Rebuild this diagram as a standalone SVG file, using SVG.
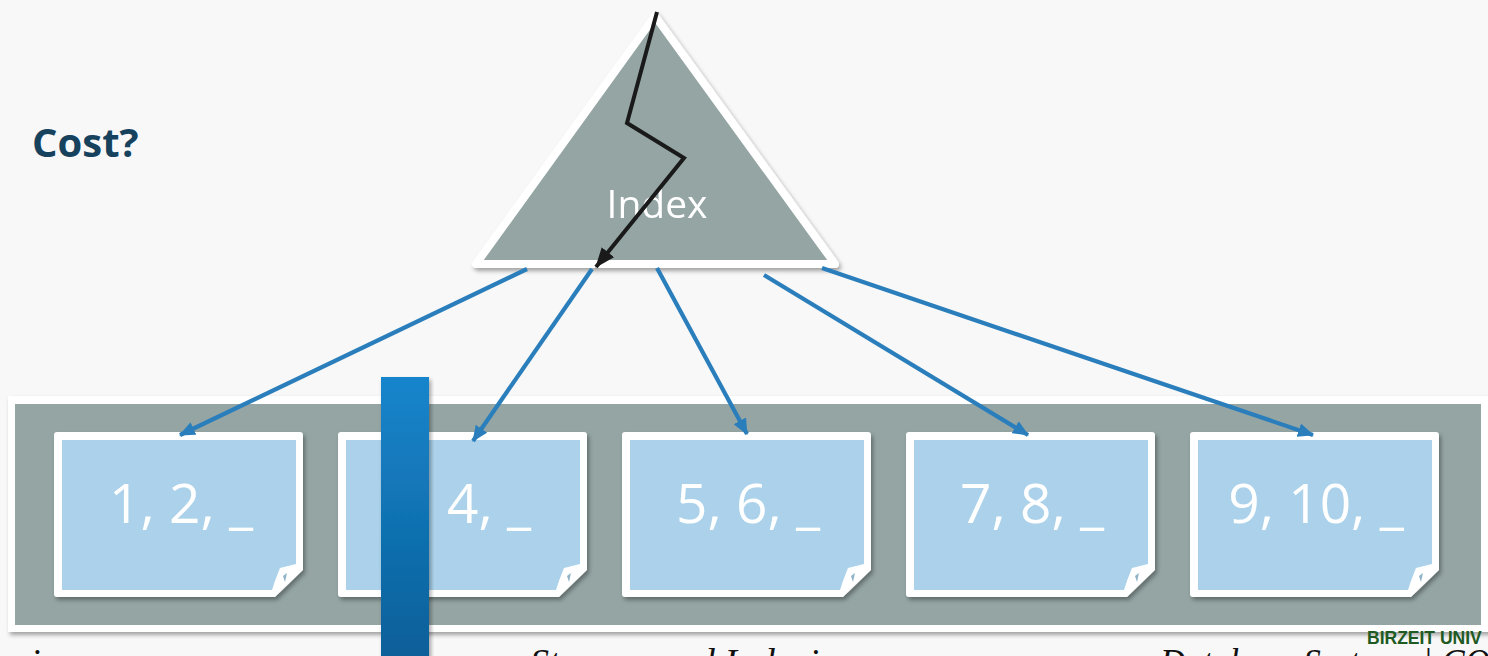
<svg xmlns="http://www.w3.org/2000/svg" width="1488" height="656" viewBox="0 0 1488 656">
  <defs>
    <style>
      .page-fill { fill: #abd2ea; }
      .page-edge { fill: #ffffff; }
      .page-label { font-family: "Open Sans", "Liberation Sans", sans-serif; font-weight: 400; font-size: 55px; fill: #ffffff; }
      .link { fill: none; stroke: #2a7ebb; stroke-width: 4.2; marker-end: url(#blueHead); }
      .footer { font-family: "Liberation Serif", serif; font-style: italic; font-size: 38px; fill: #111111; }
    </style>
    <filter id="shadow" x="-10%" y="-10%" width="120%" height="130%">
      <feDropShadow dx="2" dy="3" stdDeviation="2" flood-color="#000000" flood-opacity="0.35"/>
    </filter>
    <linearGradient id="barGrad" x1="0" y1="0" x2="0" y2="1">
      <stop offset="0" stop-color="#1585cc"/>
      <stop offset="1" stop-color="#0d5e97"/>
    </linearGradient>
    <marker id="blueHead" viewBox="0 0 16 14" refX="15" refY="7" markerWidth="16" markerHeight="14" markerUnits="userSpaceOnUse" orient="auto">
      <path d="M0,0 L16,7 L0,14 Z" fill="#2a7ebb"/>
    </marker>
    <marker id="blackHead" viewBox="0 0 20 16" refX="19" refY="8" markerWidth="20" markerHeight="16" markerUnits="userSpaceOnUse" orient="auto">
      <path d="M0,0 L20,8 L0,16 Z" fill="#1a1a1a"/>
    </marker>
    <!-- one page card with a curled bottom-right corner -->
    <g id="pageCard">
      <path class="page-edge" d="M3,0 H246 Q249,0 249,3 V138 L221,165 H3 Q0,165 0,162 V3 Q0,0 3,0 Z"/>
      <path class="page-fill" d="M8,8 H242 V132 L226,136 Q221,148 218,158 H8 Z"/>
      <path d="M229,144 L233,141 L231,150 Z" fill="#8fb4c8"/>
    </g>
  </defs>

  <rect width="1488" height="656" fill="#f8f8f8"/>

  <text x="32" y="157" font-family="'Open Sans', 'Liberation Sans', sans-serif" font-weight="700" font-size="40" fill="#17425e">Cost?</text>

  <!-- storage strip holding the data pages -->
  <g id="storage" filter="url(#shadow)">
    <rect x="8" y="396" width="1490" height="236" fill="#ffffff"/>
    <rect x="15" y="404" width="1466" height="221" fill="#94a5a4"/>
  </g>

  <g id="page1" filter="url(#shadow)">
    <use href="#pageCard" x="54" y="432"/>
    <text class="page-label" x="181" y="523" text-anchor="middle">1, 2, _</text>
  </g>
  <g id="page2" filter="url(#shadow)">
    <use href="#pageCard" x="338" y="432"/>
    <text class="page-label" x="447" y="523">4, _</text>
  </g>
  <g id="page3" filter="url(#shadow)">
    <use href="#pageCard" x="622" y="432"/>
    <text class="page-label" x="748" y="523" text-anchor="middle">5, 6, _</text>
  </g>
  <g id="page4" filter="url(#shadow)">
    <use href="#pageCard" x="906" y="432"/>
    <text class="page-label" x="1032" y="523" text-anchor="middle">7, 8, _</text>
  </g>
  <g id="page5" filter="url(#shadow)">
    <use href="#pageCard" x="1190" y="432"/>
    <text class="page-label" x="1316" y="523" text-anchor="middle">9, 10, _</text>
  </g>

  <!-- index tree -->
  <g id="index" filter="url(#shadow)">
    <polygon points="655,16 476,264 835,264" fill="#94a5a4" stroke="#ffffff" stroke-width="8" stroke-linejoin="round"/>
    <text x="657" y="218" text-anchor="middle" font-family="'Open Sans', 'Liberation Sans', sans-serif" font-size="39" fill="#ffffff">Index</text>
  </g>

  <g id="connectors">
    <line class="link" x1="527" y1="269" x2="180" y2="435"/>
    <line class="link" x1="592" y1="269" x2="473" y2="441"/>
    <line class="link" x1="657" y1="268" x2="747" y2="434"/>
    <line class="link" x1="764" y1="275" x2="1028" y2="435"/>
    <line class="link" x1="822" y1="268" x2="1313" y2="435"/>
    <polyline points="657,12 627,123 684,158 596,267" fill="none" stroke="#1a1a1a" stroke-width="4" stroke-linejoin="miter" marker-end="url(#blackHead)"/>
  </g>

  <!-- scan position marker -->
  <g id="scanBar" filter="url(#shadow)">
    <rect x="381" y="377" width="48" height="290" fill="url(#barGrad)"/>
  </g>

  <!-- footer -->
  <text x="1367" y="644" font-family="'Liberation Sans', sans-serif" font-weight="700" font-size="17.5" fill="#1e5a22">BIRZEIT UNIV</text>
  <text class="footer" x="30" y="675">i</text>
  <text class="footer" x="530" y="675">Storage and Indexing</text>
  <text class="footer" x="1160" y="675" textLength="330" lengthAdjust="spacingAndGlyphs">Database Systems | CO</text>
</svg>
